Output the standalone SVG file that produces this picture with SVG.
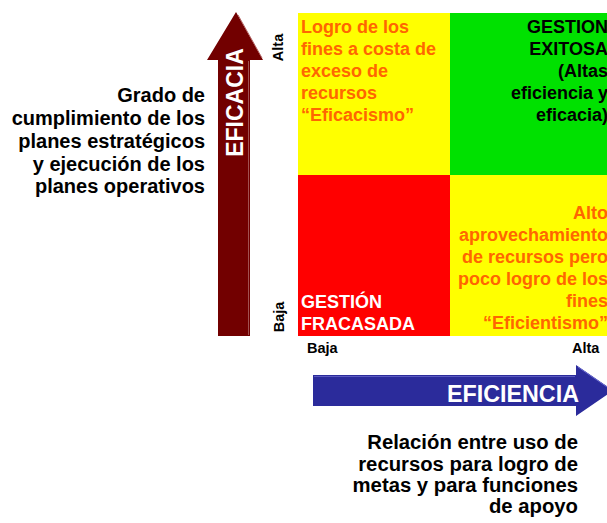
<svg xmlns="http://www.w3.org/2000/svg" width="607" height="523" viewBox="0 0 607 523">
<style>
text{font-family:"Liberation Sans",Arial,sans-serif;font-weight:bold}
.q{font-size:18px}
.or{fill:#FF6600}
.bk{fill:#000}
.wh{fill:#fff}
.lab{font-size:20px;fill:#000}
.sm{font-size:14.5px;fill:#000}
.big{font-size:23px;fill:#fff}
.hl{fill:none;stroke-width:1}
</style>
<rect width="607" height="523" fill="#fff"/>
<g id="quad-tl">
<rect x="298" y="13" width="152" height="162" fill="#FFFF00"/>
<text class="q or" x="301"><tspan x="301" y="33">Logro de los</tspan><tspan x="301" y="55">fines a costa de</tspan><tspan x="301" y="77">exceso de</tspan><tspan x="301" y="99">recursos</tspan><tspan x="301" y="121">“Eficacismo”</tspan></text>
</g>
<g id="quad-tr">
<rect x="450" y="13" width="160" height="162" fill="#00E100"/>
<text class="q bk" text-anchor="end"><tspan x="608" y="33">GESTION</tspan><tspan x="608" y="55">EXITOSA</tspan><tspan x="608" y="77">(Altas</tspan><tspan x="608" y="99">eficiencia y</tspan><tspan x="608" y="121">eficacia)</tspan></text>
</g>
<g id="quad-bl">
<rect x="298" y="175" width="152" height="161" fill="#FF0000"/>
<text class="q wh"><tspan x="301" y="308">GESTIÓN</tspan><tspan x="301" y="330">FRACASADA</tspan></text>
</g>
<g id="quad-br">
<rect x="450" y="175" width="160" height="161" fill="#FFFF00"/>
<text class="q or" text-anchor="end"><tspan x="608" y="219">Alto</tspan><tspan x="608" y="241">aprovechamiento</tspan><tspan x="608" y="263">de recursos pero</tspan><tspan x="608" y="285">poco logro de los</tspan><tspan x="608" y="307">fines</tspan><tspan x="608" y="329">“Eficientismo”</tspan></text>
</g>
<g id="axis-labels">
<text class="sm" transform="translate(283,47.5) rotate(-90)" text-anchor="middle">Alta</text>
<text class="sm" transform="translate(284,317) rotate(-90)" text-anchor="middle">Baja</text>
<text class="sm" x="307" y="353">Baja</text>
<text class="sm" x="572" y="353">Alta</text>
</g>
<g id="connectors">
<g id="arrow-eficacia">
<polygon points="236,12 263,60 250,60 250,336 218,336 218,60 207,60" fill="#720000"/>
<polyline class="hl" points="238,15 262,58" stroke="#B06060"/>
<line class="hl" x1="248.5" y1="61" x2="248.5" y2="335" stroke="#A05050"/>
<text class="big" transform="translate(242.5,102.5) rotate(-90)" text-anchor="middle">EFICACIA</text>
</g>
<g id="arrow-eficiencia">
<polygon points="313,375 576,375 576,365 613,390.5 576,416 576,406 313,406" fill="#2B2B9B"/>
<line class="hl" x1="314" y1="376.5" x2="575" y2="376.5" stroke="#5A5AC0"/>
<line class="hl" x1="578" y1="367" x2="610" y2="389" stroke="#6A6AD0"/>
<text class="big" style="font-size:23.3px" x="579" y="401.5" text-anchor="end">EFICIENCIA</text>
</g>
</g>
<g id="desc-eficacia">
<text class="lab" text-anchor="end"><tspan x="205" y="102">Grado de</tspan><tspan x="205" y="125">cumplimiento de los</tspan><tspan x="205" y="148">planes estratégicos</tspan><tspan x="205" y="170.5">y ejecución de los</tspan><tspan x="205" y="193">planes operativos</tspan></text>
</g>
<g id="desc-eficiencia">
<text class="lab" style="font-size:20.3px" text-anchor="end"><tspan x="578" y="449">Relación entre uso de</tspan><tspan x="578" y="470.5">recursos para logro de</tspan><tspan x="578" y="492">metas y para funciones</tspan><tspan x="578" y="513">de apoyo</tspan></text>
</g>
</svg>
